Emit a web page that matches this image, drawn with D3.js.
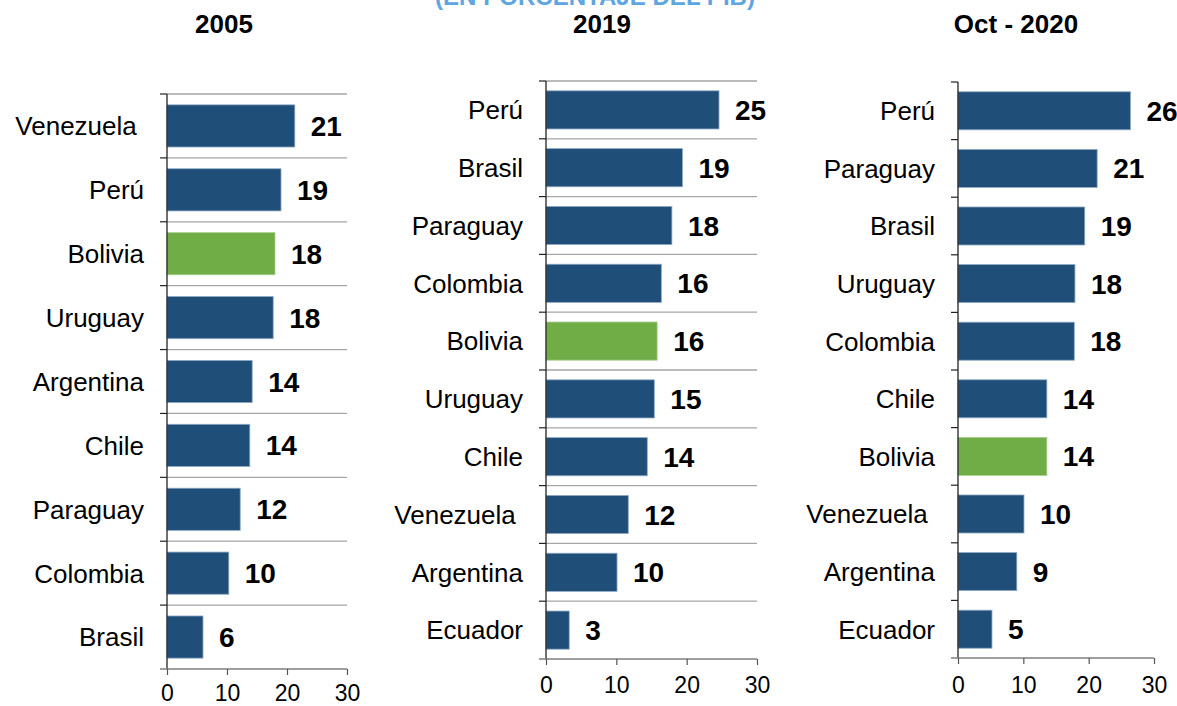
<!DOCTYPE html>
<html>
<head>
<meta charset="utf-8">
<script src="https://cdn.jsdelivr.net/npm/d3@7"></script>
<style>
	body { margin: 0; background: #fff; }
	svg { display: block; font-family: "Liberation Sans", Arial, sans-serif; }
</style>
</head>
<body>
<svg id="chart" width="1177" height="706"></svg>
<script>
// data per panel
const cats2005 = ['Venezuela\u00a0', 'Perú', 'Bolivia', 'Uruguay', 'Argentina', 'Chile', 'Paraguay', 'Colombia', 'Brasil'];
const vals2005 = [21.3, 19.0, 18.0, 17.7, 14.2, 13.8, 12.2, 10.3, 6.0];

const cats2019 = ['Perú', 'Brasil', 'Paraguay', 'Colombia', 'Bolivia', 'Uruguay', 'Chile', 'Venezuela\u00a0', 'Argentina', 'Ecuador'];
const vals2019 = [24.6, 19.4, 17.9, 16.4, 15.8, 15.4, 14.4, 11.7, 10.1, 3.3];

const cats2020 = ['Perú', 'Paraguay', 'Brasil', 'Uruguay', 'Colombia', 'Chile', 'Bolivia', 'Venezuela\u00a0', 'Argentina', 'Ecuador'];
const vals2020 = [26.4, 21.3, 19.4, 17.9, 17.8, 13.6, 13.6, 10.1, 9.0, 5.2];

const titles = ['2005', '2019', 'Oct - 2020'];
const xTicks = [0, 10, 20, 30];
const highlight = 'Bolivia';

const blue = '#1f4e79';
const green = '#70ad47';

const svg = d3.select('#chart');

// subtitle, only its lower part shows at the top edge
svg.append('text')
	.attr('x', 595)
	.attr('y', 5)
	.attr('text-anchor', 'middle')
	.attr('font-size', '23px')
	.attr('font-weight', 'bold')
	.attr('fill', '#5ea5e2')
	.attr('textLength', 320)
	.attr('lengthAdjust', 'spacingAndGlyphs')
	.text('(EN PORCENTAJE DEL PIB)');

/**
 * draws one horizontal bar panel
 */
function drawPanel(cats, vals, title, box, grid) {
	const g = svg.append('g');
	const x = d3.scaleLinear().domain([0, 30]).range([box.x0, box.x1]);
	const y = d3.scaleBand().domain(cats).range([box.y0, box.y1])
		.paddingInner(0.34).paddingOuter(0.17);
	const step = y.step();

	g.append('text')
		.attr('x', box.tx)
		.attr('y', 33)
		.attr('text-anchor', 'middle')
		.attr('font-size', '26px')
		.attr('font-weight', 'bold')
		.attr('fill', '#000')
		.text(title);

	// category separators
	const bounds = d3.range(cats.length).map(i => box.y0 + i * step);
	if(grid) {
		g.selectAll('.grid')
			.data(bounds)
			.enter()
			.append('line')
			.attr('x1', box.x0)
			.attr('x2', x(30))
			.attr('y1', d => d)
			.attr('y2', d => d)
			.attr('stroke', '#a6a6a6')
			.attr('stroke-width', 1.3);
	}
	g.selectAll('.ytick')
		.data(bounds)
		.enter()
		.append('line')
		.attr('x1', box.x0 - 7)
		.attr('x2', box.x0)
		.attr('y1', d => d)
		.attr('y2', d => d)
		.attr('stroke', '#222')
		.attr('stroke-width', 1.2);

	// bars
	g.selectAll('rect')
		.data(vals)
		.enter()
		.append('rect')
		.attr('x', x(0))
		.attr('y', (d, i) => y(cats[i]))
		.attr('width', d => x(d) - x(0))
		.attr('height', y.bandwidth())
		.attr('fill', (d, i) => cats[i] == highlight ? green : blue)
		.attr('stroke', (d, i) => cats[i] == highlight ? '#a9cf8f' : '#8fa9c4')
		.attr('stroke-width', 0.8);

	// value labels
	g.selectAll('.val')
		.data(vals)
		.enter()
		.append('text')
		.attr('x', d => x(d) + 16)
		.attr('y', (d, i) => y(cats[i]) + y.bandwidth() / 2)
		.attr('dy', '0.36em')
		.attr('font-size', '28px')
		.attr('font-weight', 'bold')
		.attr('fill', '#000')
		.text(d => d3.format('.0f')(d));

	// category labels
	g.selectAll('.cat')
		.data(cats)
		.enter()
		.append('text')
		.attr('x', box.x0 - 23)
		.attr('y', d => y(d) + y.bandwidth() / 2)
		.attr('dy', '0.36em')
		.attr('text-anchor', 'end')
		.attr('font-size', '26px')
		.attr('fill', '#000')
		.text(d => d);

	// y axis line
	g.append('line')
		.attr('x1', box.x0).attr('x2', box.x0)
		.attr('y1', box.y0).attr('y2', box.y1)
		.attr('stroke', '#222')
		.attr('stroke-width', 1.3);

	// x axis
	const xAxis = d3.axisBottom(x).tickValues(xTicks).tickSize(6).tickPadding(box.pad).tickSizeOuter(0);
	const ax = g.append('g')
		.attr('transform', `translate(0,${box.y1})`)
		.call(xAxis);
	ax.select('.domain').attr('stroke', '#7f7f7f').attr('stroke-width', 1.5)
		.attr('d', `M${box.x0 - 7},0H${x(30)}`);
	ax.selectAll('.tick line').attr('stroke', '#555').attr('stroke-width', 1.2);
	ax.selectAll('.tick text')
		.attr('font-family', '"Liberation Sans", Arial, sans-serif')
		.attr('font-size', '23px')
		.attr('fill', '#000');
}

drawPanel(cats2005, vals2005, titles[0], {x0: 167, x1: 347, y0: 94, y1: 669, tx: 224, pad: 10}, true);
drawPanel(cats2019, vals2019, titles[1], {x0: 546, x1: 757, y0: 81, y1: 659, tx: 602, pad: 12}, true);
drawPanel(cats2020, vals2020, titles[2], {x0: 958, x1: 1154, y0: 82, y1: 658, tx: 1016, pad: 13}, false);
</script>
</body>
</html>
